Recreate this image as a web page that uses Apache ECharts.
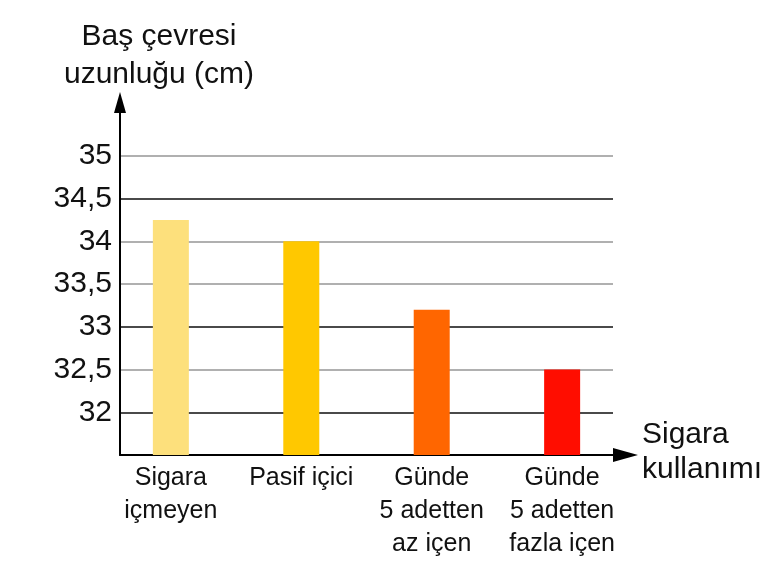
<!DOCTYPE html>
<html>
<head>
<meta charset="utf-8">
<script src="https://cdn.jsdelivr.net/npm/echarts@6/dist/echarts.min.js"></script>
<style>
  html, body { margin: 0; padding: 0; background: #fff; }
  #chart { width: 775px; height: 573px; }
</style>
</head>
<body>
<div id="chart"></div>
<script>
// kategoriler ve değerler
var categories = ['Sigara\niçmeyen', 'Pasif içici', 'Günde\n5 adetten\naz içen', 'Günde\n5 adetten\nfazla içen'];
var values = [34.25, 34.0, 33.2, 32.5];
var barColors = ['#fde07c', '#ffc800', '#ff6600', '#ff0d00'];
var yTicks = [32, 32.5, 33, 33.5, 34, 34.5, 35];

var FONT = '"Liberation Sans", Arial, sans-serif';
var DARK = '#4a4a4a', LIGHT = '#b0b0b0';

var chart = echarts.init(document.getElementById('chart'));

var option = {
  animation: false,
  backgroundColor: '#fff',
  grid: { left: 120, right: 162, top: 113, bottom: 118 },
  graphic: [
    {
      type: 'text',
      style: {
        text: 'Baş çevresi\nuzunluğu (cm)',
        x: 159, y: 55.5,
        align: 'center', verticalAlign: 'middle',
        font: '30px ' + FONT, lineHeight: 38, fill: '#111'
      }
    },
    {
      type: 'text',
      style: {
        text: 'Sigara\nkullanımı',
        x: 642, y: 452,
        align: 'left', verticalAlign: 'middle',
        font: '30px ' + FONT, lineHeight: 35, fill: '#111'
      }
    }
  ],
  xAxis: {
    type: 'value',
    min: -0.39,
    max: 3.39,
    splitLine: { show: false },
    axisTick: { show: false },
    axisLine: {
      show: true,
      onZero: false,
      lineStyle: { color: '#000', width: 2 },
      symbol: ['none', 'triangle'],
      symbolSize: [14, 25],
      symbolOffset: [0, 12.5]
    },
    axisLabel: {
      customValues: [0, 1, 2, 3],
      formatter: function (v) { return categories[Math.round(v)] || ''; },
      fontFamily: FONT, fontSize: 25, lineHeight: 33, color: '#111',
      margin: 7, align: 'center'
    }
  },
  yAxis: {
    type: 'value',
    min: 31.5,
    max: 35.5,
    interval: 0.5,
    axisTick: { show: false },
    axisLine: {
      show: true,
      onZero: false,
      lineStyle: { color: '#000', width: 2 },
      symbol: ['none', 'triangle'],
      symbolSize: [12, 21],
      symbolOffset: [0, 10.5]
    },
    axisLabel: {
      fontFamily: FONT, fontSize: 30, color: '#111', margin: 8,
      padding: [4, 0, 0, 0],
      formatter: function (v) {
        return yTicks.indexOf(v) >= 0 ? String(v).replace('.', ',') : '';
      }
    },
    splitLine: {
      show: true,
      lineStyle: {
        width: 2,
        color: ['transparent', DARK, LIGHT, DARK, LIGHT, LIGHT, DARK, LIGHT, 'transparent']
      }
    }
  },
  series: [{
    type: 'bar',
    barWidth: 36,
    z: 3,
    data: categories.map(function (c, i) {
      return { value: [i, values[i]], itemStyle: { color: barColors[i] } };
    })
  }]
};

chart.setOption(option);
</script>
</body>
</html>
